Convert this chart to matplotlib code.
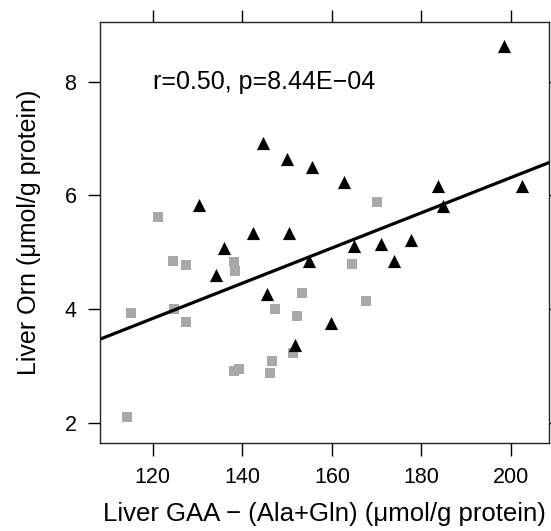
import matplotlib
matplotlib.use("Agg")
import matplotlib.pyplot as plt
import numpy as np

plt.rcParams['font.family'] = ['Liberation Sans', 'DejaVu Sans']

# black triangles
tri_x = [198.4, 144.6, 149.9, 155.6, 162.8, 183.8, 202.4, 130.4, 184.9, 142.3, 150.5,
         135.9, 165.0, 171.0, 177.6, 134.1, 154.9, 173.8, 145.6, 159.9, 151.7]
tri_y = [8.62, 6.92, 6.64, 6.50, 6.23, 6.16, 6.16, 5.84, 5.81, 5.34, 5.34,
         5.08, 5.12, 5.15, 5.21, 4.60, 4.85, 4.85, 4.27, 3.76, 3.38]

# grey squares
sq_x = [170.0, 121.2, 124.5, 127.4, 138.1, 138.4, 164.4, 153.3, 167.7, 115.2,
        124.8, 127.4, 147.3, 152.3, 151.4, 146.6, 146.2, 138.2, 139.3, 114.3]
sq_y = [5.89, 5.63, 4.84, 4.77, 4.83, 4.68, 4.80, 4.29, 4.15, 3.94,
        4.00, 3.77, 4.01, 3.89, 3.24, 3.10, 2.88, 2.92, 2.95, 2.11]

x_ticks = [120, 140, 160, 180, 200]
y_ticks = [2, 4, 6, 8]
stat_text = "r=0.50, p=8.44E\u221204"

fig = plt.figure(figsize=(5.51, 5.31), dpi=100)
ax = fig.add_axes([0.1815, 0.1657, 0.815, 0.793])

ax.scatter(sq_x, sq_y, marker='s', s=58, color='#a8a8a8', linewidths=0, zorder=2)
ax.scatter(tri_x, tri_y, marker='^', s=90, color='black', linewidths=0, zorder=3)

# least squares line over all points
all_x = np.array(tri_x + sq_x)
all_y = np.array(tri_y + sq_y)
slope, icpt = np.polyfit(all_x, all_y, 1)
xl = np.array([100, 215])
ax.plot(xl, icpt + slope * xl, color='black', lw=2.3, zorder=4)

ax.set_xlim(108.2, 208.5)
ax.set_ylim(1.65, 9.05)
ax.set_xticks(x_ticks)
ax.set_yticks(y_ticks)
ax.tick_params(direction='out', length=9, width=1, labelsize=15.5,
               top=True, right=True, labeltop=False, labelright=False)
ax.tick_params(axis='x', pad=8)
ax.tick_params(axis='y', pad=8)
for s in ax.spines.values():
    s.set_linewidth(1)
    s.set_color('#222222')

ax.text(120, 8, stat_text, fontsize=18, ha='left', va='center')
ax.set_xlabel("Liver GAA \u2212 (Ala+Gln) (\u03bcmol/g protein)", fontsize=18.5, labelpad=10)
ax.set_ylabel("Liver Orn (\u03bcmol/g protein)", fontsize=18, labelpad=17)

fig.savefig("out.png", dpi=100)
